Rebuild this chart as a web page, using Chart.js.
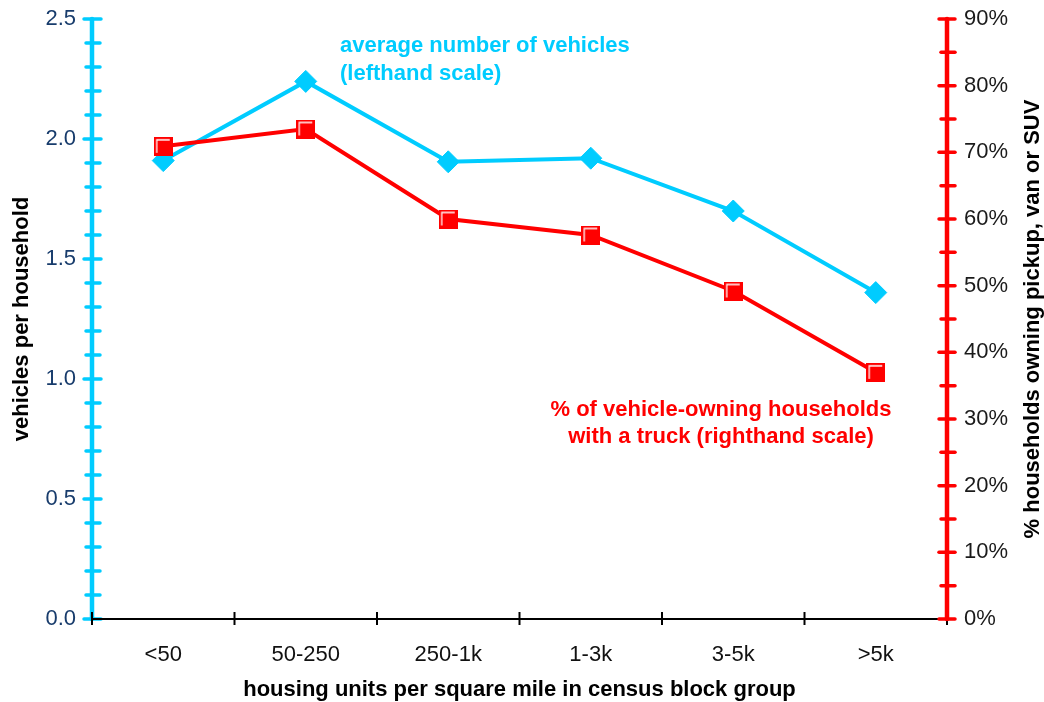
<!DOCTYPE html>
<html>
<head>
<meta charset="utf-8">
<script src="https://cdn.jsdelivr.net/npm/chart.js@4/dist/chart.umd.min.js"></script>
<style>
  html, body { margin: 0; padding: 0; background: #fff; }
  #wrap { width: 1044px; height: 702px; }
</style>
</head>
<body>
<div id="wrap"><canvas id="c" width="1044" height="702"></canvas></div>
<script>
const categories = ['<50', '50-250', '250-1k', '1-3k', '3-5k', '>5k'];
const vehiclesPerHousehold = [1.91, 2.24, 1.905, 1.92, 1.70, 1.36];
const pctOwningTruck = [70.9, 73.5, 60.0, 57.6, 49.2, 37.0];
const leftTicks = [0, 0.5, 1.0, 1.5, 2.0, 2.5];
const rightTicks = [0, 10, 20, 30, 40, 50, 60, 70, 80, 90];

const CYAN = '#00CCFF';
const RED = '#FF0000';
const FONT = '"Liberation Sans", Arial, Helvetica, sans-serif';

// red square marker with white bevel
const sq = document.createElement('canvas');
sq.width = 19; sq.height = 19;
(function () {
  const g = sq.getContext('2d');
  g.fillStyle = RED;
  g.fillRect(0, 0, 19, 19);
  g.strokeStyle = '#ffffff';
  g.lineWidth = 1.3;
  g.beginPath();
  g.moveTo(3, 16);
  g.lineTo(3, 3);
  g.lineTo(16, 3);
  g.stroke();
})();

const axesPlugin = {
  id: 'customAxes',
  beforeDatasetsDraw(chart) {
    const ctx = chart.ctx;
    const ca = chart.chartArea;
    const yL = chart.scales.yL, yR = chart.scales.yR, x = chart.scales.x;
    ctx.save();
    ctx.lineCap = 'round';
    // left axis
    ctx.strokeStyle = CYAN;
    ctx.lineWidth = 4.5;
    ctx.beginPath();
    ctx.moveTo(ca.left, yL.getPixelForValue(0));
    ctx.lineTo(ca.left, yL.getPixelForValue(2.5));
    ctx.stroke();
    ctx.lineWidth = 3.5;
    for (let i = 0; i <= 25; i++) {
      const v = i / 10;
      const py = yL.getPixelForValue(v);
      const major = i % 5 === 0;
      ctx.beginPath();
      ctx.moveTo(ca.left - (major ? 8 : 6), py);
      ctx.lineTo(ca.left + (major ? 9 : 8), py);
      ctx.stroke();
    }
    // x axis
    ctx.lineCap = 'butt';
    ctx.strokeStyle = '#000';
    ctx.lineWidth = 2;
    const by = ca.bottom;
    ctx.beginPath();
    ctx.moveTo(ca.left, by);
    ctx.lineTo(ca.right, by);
    ctx.stroke();
    const n = categories.length;
    for (let i = 0; i <= n; i++) {
      let px;
      if (i === 0) px = ca.left;
      else if (i === n) px = ca.right;
      else px = (x.getPixelForValue(i - 1) + x.getPixelForValue(i)) / 2;
      ctx.beginPath();
      ctx.moveTo(px, by - 7);
      ctx.lineTo(px, by + 6);
      ctx.stroke();
    }
    // right axis
    ctx.lineCap = 'round';
    ctx.strokeStyle = RED;
    ctx.lineWidth = 4.5;
    ctx.beginPath();
    ctx.moveTo(ca.right, yR.getPixelForValue(0));
    ctx.lineTo(ca.right, yR.getPixelForValue(90));
    ctx.stroke();
    ctx.lineWidth = 3.5;
    for (let v = 0; v <= 90; v += 5) {
      const py = yR.getPixelForValue(v);
      const major = v % 10 === 0;
      ctx.beginPath();
      ctx.moveTo(ca.right - (major ? 8 : 6), py);
      ctx.lineTo(ca.right + 8, py);
      ctx.stroke();
    }
    ctx.restore();
  },
  afterDraw(chart) {
    const ctx = chart.ctx;
    const ca = chart.chartArea;
    ctx.save();
    ctx.font = 'bold 22px ' + FONT;
    ctx.textBaseline = 'middle';
    // right axis title (reads bottom to top)
    ctx.fillStyle = '#000';
    ctx.translate(1033, (ca.top + ca.bottom) / 2);
    ctx.rotate(-Math.PI / 2);
    ctx.textAlign = 'center';
    ctx.fillText('% households owning pickup, van or SUV', 0, 0);
    ctx.restore();

    ctx.save();
    ctx.font = 'bold 22px ' + FONT;
    ctx.textBaseline = 'middle';
    ctx.fillStyle = CYAN;
    ctx.textAlign = 'left';
    ctx.fillText('average number of vehicles', 340, 46);
    ctx.fillText('(lefthand scale)', 340, 74);
    ctx.fillStyle = RED;
    ctx.textAlign = 'center';
    ctx.fillText('% of vehicle-owning households', 721, 410);
    ctx.fillText('with a truck (righthand scale)', 721, 437);
    ctx.restore();
  }
};

function fixVertical(width) {
  return function (s) {
    s.width = width;
    s.paddingTop = 0;
    s.paddingBottom = 0;
  };
}

new Chart(document.getElementById('c'), {
  type: 'line',
  data: {
    labels: categories,
    datasets: [
      {
        label: '% of vehicle-owning households with a truck',
        data: pctOwningTruck,
        yAxisID: 'yR',
        borderColor: RED,
        backgroundColor: RED,
        borderWidth: 4,
        pointStyle: sq,
        pointRadius: 10,
        tension: 0,
        order: 0
      },
      {
        label: 'average number of vehicles',
        data: vehiclesPerHousehold,
        yAxisID: 'yL',
        borderColor: CYAN,
        backgroundColor: CYAN,
        pointBackgroundColor: CYAN,
        pointBorderColor: CYAN,
        pointBorderWidth: 1,
        borderWidth: 4,
        pointStyle: 'rectRot',
        pointRadius: 11,
        tension: 0,
        order: 1
      }
    ]
  },
  options: {
    responsive: false,
    animation: false,
    devicePixelRatio: 1,
    layout: { padding: { top: 19, left: 0, right: 0, bottom: 0 } },
    plugins: { legend: { display: false }, tooltip: { enabled: false } },
    scales: {
      x: {
        type: 'category',
        offset: true,
        grid: { display: false, drawTicks: false },
        border: { display: false },
        ticks: { color: '#111', font: { family: FONT, size: 22 }, padding: 23, maxRotation: 0, autoSkip: false },
        title: {
          display: true,
          text: 'housing units per square mile in census block group',
          color: '#000',
          font: { family: FONT, size: 22, weight: 'bold', lineHeight: 1 },
          padding: { top: 0, bottom: 1 }
        },
        afterFit(s) { s.height = 83; s.paddingLeft = 0; s.paddingRight = 0; }
      },
      yL: {
        position: 'left',
        min: 0, max: 2.5,
        grid: { display: false, drawTicks: false },
        border: { display: false },
        afterBuildTicks(s) { s.ticks = leftTicks.map(v => ({ value: v })); },
        ticks: {
          color: '#183c6c',
          font: { family: FONT, size: 22 },
          padding: 16,
          callback: v => Number(v).toFixed(1)
        },
        title: {
          display: true,
          text: 'vehicles per household',
          color: '#000',
          font: { family: FONT, size: 22, weight: 'bold', lineHeight: 1 },
          padding: { top: 11, bottom: 0 }
        },
        afterFit: fixVertical(92)
      },
      yR: {
        position: 'right',
        min: 0, max: 90,
        grid: { display: false, drawTicks: false },
        border: { display: false },
        afterBuildTicks(s) { s.ticks = rightTicks.map(v => ({ value: v })); },
        ticks: {
          color: '#1a1a1a',
          font: { family: FONT, size: 22 },
          padding: 17,
          callback: v => v + '%'
        },
        afterFit: fixVertical(97)
      }
    }
  },
  plugins: [axesPlugin]
});
</script>
</body>
</html>
